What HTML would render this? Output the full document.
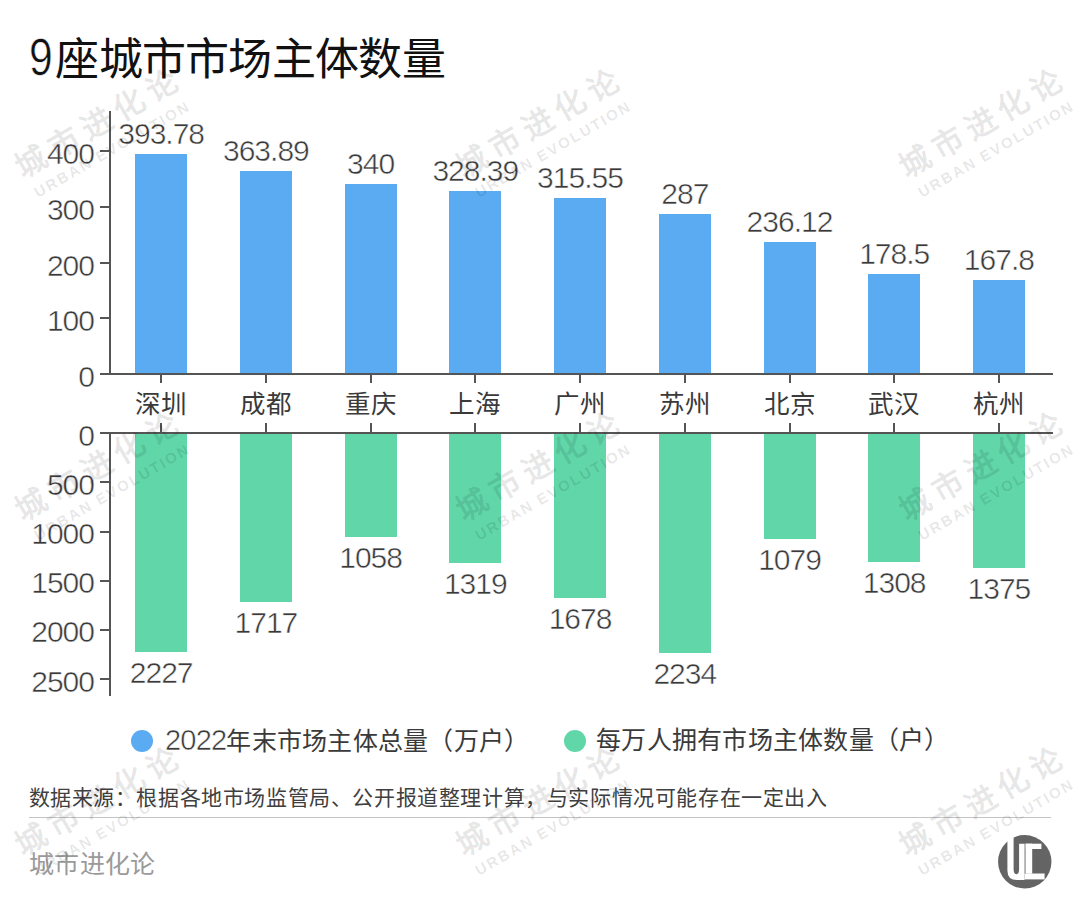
<!DOCTYPE html>
<html lang="zh-CN"><head><meta charset="utf-8"><style>
html,body{margin:0;padding:0;background:#fff;}
body{width:1080px;height:918px;position:relative;overflow:hidden;font-family:"Liberation Sans",sans-serif;}
div{box-sizing:border-box}
.ln{position:absolute;background:#555555;z-index:2}
.bar{position:absolute}
.num{position:absolute;font-size:30px;line-height:34px;color:#3a3a3a;white-space:nowrap;letter-spacing:-1px;-webkit-text-stroke:0.5px #fff}
.yl{text-align:right}
.vl{width:200px;text-align:center}
.cat{position:absolute;width:200px;text-align:center;font-size:25.5px;line-height:32px;color:#3a3a3a}
.title{position:absolute;font-size:44px;line-height:64px;color:#111;white-space:nowrap;font-weight:500;letter-spacing:-0.7px}
.n2{font-size:29px;letter-spacing:-0.8px;-webkit-text-stroke:0.5px #fff}
.leg{position:absolute;font-size:25px;letter-spacing:0.26px;line-height:34px;color:#3a3a3a;white-space:nowrap}
.dot{position:absolute;width:22px;height:22px;border-radius:50%}
.src{position:absolute;font-size:21px;letter-spacing:0.6px;line-height:30px;color:#404040;white-space:nowrap}
.foot{position:absolute;font-size:25px;letter-spacing:0.35px;line-height:32px;color:#9a9a9a;white-space:nowrap}
.wm{position:absolute;width:200px;height:80px;transform:rotate(-30deg);text-align:center;color:rgba(0,0,0,0.1);z-index:5}
.wm1{font-size:31px;line-height:40px;font-weight:900;letter-spacing:7px;text-indent:7px;white-space:nowrap}
.wm2{font-size:15px;line-height:18px;font-weight:700;letter-spacing:2.1px;text-indent:2.1px;white-space:nowrap}
</style></head><body>
<div class="wm" style="left:7px;top:102px"><div class="wm1">城市进化论</div><div class="wm2">URBAN EVOLUTION</div></div>
<div class="wm" style="left:448px;top:102px"><div class="wm1">城市进化论</div><div class="wm2">URBAN EVOLUTION</div></div>
<div class="wm" style="left:891px;top:102px"><div class="wm1">城市进化论</div><div class="wm2">URBAN EVOLUTION</div></div>
<div class="wm" style="left:7px;top:445px"><div class="wm1">城市进化论</div><div class="wm2">URBAN EVOLUTION</div></div>
<div class="wm" style="left:448px;top:445px"><div class="wm1">城市进化论</div><div class="wm2">URBAN EVOLUTION</div></div>
<div class="wm" style="left:891px;top:445px"><div class="wm1">城市进化论</div><div class="wm2">URBAN EVOLUTION</div></div>
<div class="wm" style="left:7px;top:780px"><div class="wm1">城市进化论</div><div class="wm2">URBAN EVOLUTION</div></div>
<div class="wm" style="left:448px;top:780px"><div class="wm1">城市进化论</div><div class="wm2">URBAN EVOLUTION</div></div>
<div class="wm" style="left:891px;top:780px"><div class="wm1">城市进化论</div><div class="wm2">URBAN EVOLUTION</div></div>
<div class="title" style="left:29px;top:22px;font-size:52px;line-height:70px;transform:scaleX(0.82);transform-origin:0 0;-webkit-text-stroke:0.6px #fff">9</div>
<div class="title" style="left:55.3px;top:27.5px">座城市市场主体数量</div>
<div class="ln" style="left:108.5px;top:111px;width:2px;height:264.0px"></div>
<div class="ln" style="left:100px;top:373.0px;width:953px;height:2px"></div>
<div class="ln" style="left:100px;top:373.0px;width:10px;height:2px"></div>
<div class="num yl" style="right:986px;top:360.0px">0</div>
<div class="ln" style="left:100px;top:317.4px;width:10px;height:2px"></div>
<div class="num yl" style="right:986px;top:304.4px">100</div>
<div class="ln" style="left:100px;top:261.7px;width:10px;height:2px"></div>
<div class="num yl" style="right:986px;top:248.7px">200</div>
<div class="ln" style="left:100px;top:206.1px;width:10px;height:2px"></div>
<div class="num yl" style="right:986px;top:193.1px">300</div>
<div class="ln" style="left:100px;top:150.4px;width:10px;height:2px"></div>
<div class="num yl" style="right:986px;top:137.4px">400</div>
<div class="ln" style="left:108.5px;top:433.2px;width:2px;height:262.8px"></div>
<div class="ln" style="left:100px;top:432.2px;width:953px;height:2px"></div>
<div class="ln" style="left:100px;top:432.2px;width:10px;height:2px"></div>
<div class="num yl" style="right:986px;top:418.7px">0</div>
<div class="ln" style="left:100px;top:481.3px;width:10px;height:2px"></div>
<div class="num yl" style="right:986px;top:467.8px">500</div>
<div class="ln" style="left:100px;top:530.5px;width:10px;height:2px"></div>
<div class="num yl" style="right:986px;top:517.0px">1000</div>
<div class="ln" style="left:100px;top:579.6px;width:10px;height:2px"></div>
<div class="num yl" style="right:986px;top:566.1px">1500</div>
<div class="ln" style="left:100px;top:628.8px;width:10px;height:2px"></div>
<div class="num yl" style="right:986px;top:615.3px">2000</div>
<div class="ln" style="left:100px;top:678.0px;width:10px;height:2px"></div>
<div class="num yl" style="right:986px;top:664.5px">2500</div>
<div class="bar" style="left:135.2px;top:154.2px;width:52px;height:219.8px;background:#5aabf2"></div>
<div class="bar" style="left:135.2px;top:433.2px;width:52px;height:218.9px;background:#60d6a9"></div>
<div class="ln" style="left:160.2px;top:374.0px;width:2px;height:8.5px"></div>
<div class="ln" style="left:160.2px;top:422.7px;width:2px;height:10.5px"></div>
<div class="num vl" style="left:61.2px;top:117.2px">393.78</div>
<div class="num vl" style="left:61.2px;top:656.1px">2227</div>
<div class="cat" style="left:61.2px;top:388px">深圳</div>
<div class="bar" style="left:239.9px;top:170.8px;width:52px;height:203.2px;background:#5aabf2"></div>
<div class="bar" style="left:239.9px;top:433.2px;width:52px;height:168.8px;background:#60d6a9"></div>
<div class="ln" style="left:264.9px;top:374.0px;width:2px;height:8.5px"></div>
<div class="ln" style="left:264.9px;top:422.7px;width:2px;height:10.5px"></div>
<div class="num vl" style="left:165.9px;top:133.8px">363.89</div>
<div class="num vl" style="left:165.9px;top:606.0px">1717</div>
<div class="cat" style="left:165.9px;top:388px">成都</div>
<div class="bar" style="left:344.6px;top:184.1px;width:52px;height:189.9px;background:#5aabf2"></div>
<div class="bar" style="left:344.6px;top:433.2px;width:52px;height:104.0px;background:#60d6a9"></div>
<div class="ln" style="left:369.6px;top:374.0px;width:2px;height:8.5px"></div>
<div class="ln" style="left:369.6px;top:422.7px;width:2px;height:10.5px"></div>
<div class="num vl" style="left:270.6px;top:147.1px">340</div>
<div class="num vl" style="left:270.6px;top:541.2px">1058</div>
<div class="cat" style="left:270.6px;top:388px">重庆</div>
<div class="bar" style="left:449.3px;top:190.6px;width:52px;height:183.4px;background:#5aabf2"></div>
<div class="bar" style="left:449.3px;top:433.2px;width:52px;height:129.7px;background:#60d6a9"></div>
<div class="ln" style="left:474.3px;top:374.0px;width:2px;height:8.5px"></div>
<div class="ln" style="left:474.3px;top:422.7px;width:2px;height:10.5px"></div>
<div class="num vl" style="left:375.3px;top:153.6px">328.39</div>
<div class="num vl" style="left:375.3px;top:566.9px">1319</div>
<div class="cat" style="left:375.3px;top:388px">上海</div>
<div class="bar" style="left:554.0px;top:197.7px;width:52px;height:176.3px;background:#5aabf2"></div>
<div class="bar" style="left:554.0px;top:433.2px;width:52px;height:164.9px;background:#60d6a9"></div>
<div class="ln" style="left:579.0px;top:374.0px;width:2px;height:8.5px"></div>
<div class="ln" style="left:579.0px;top:422.7px;width:2px;height:10.5px"></div>
<div class="num vl" style="left:480.0px;top:160.7px">315.55</div>
<div class="num vl" style="left:480.0px;top:602.1px">1678</div>
<div class="cat" style="left:480.0px;top:388px">广州</div>
<div class="bar" style="left:658.8px;top:213.6px;width:52px;height:160.4px;background:#5aabf2"></div>
<div class="bar" style="left:658.8px;top:433.2px;width:52px;height:219.6px;background:#60d6a9"></div>
<div class="ln" style="left:683.8px;top:374.0px;width:2px;height:8.5px"></div>
<div class="ln" style="left:683.8px;top:422.7px;width:2px;height:10.5px"></div>
<div class="num vl" style="left:584.8px;top:176.6px">287</div>
<div class="num vl" style="left:584.8px;top:656.8px">2234</div>
<div class="cat" style="left:584.8px;top:388px">苏州</div>
<div class="bar" style="left:763.5px;top:241.9px;width:52px;height:132.1px;background:#5aabf2"></div>
<div class="bar" style="left:763.5px;top:433.2px;width:52px;height:106.1px;background:#60d6a9"></div>
<div class="ln" style="left:788.5px;top:374.0px;width:2px;height:8.5px"></div>
<div class="ln" style="left:788.5px;top:422.7px;width:2px;height:10.5px"></div>
<div class="num vl" style="left:689.5px;top:204.9px">236.12</div>
<div class="num vl" style="left:689.5px;top:543.3px">1079</div>
<div class="cat" style="left:689.5px;top:388px">北京</div>
<div class="bar" style="left:868.2px;top:274.0px;width:52px;height:100.0px;background:#5aabf2"></div>
<div class="bar" style="left:868.2px;top:433.2px;width:52px;height:128.6px;background:#60d6a9"></div>
<div class="ln" style="left:893.2px;top:374.0px;width:2px;height:8.5px"></div>
<div class="ln" style="left:893.2px;top:422.7px;width:2px;height:10.5px"></div>
<div class="num vl" style="left:794.2px;top:237.0px">178.5</div>
<div class="num vl" style="left:794.2px;top:565.8px">1308</div>
<div class="cat" style="left:794.2px;top:388px">武汉</div>
<div class="bar" style="left:972.9px;top:279.9px;width:52px;height:94.1px;background:#5aabf2"></div>
<div class="bar" style="left:972.9px;top:433.2px;width:52px;height:135.2px;background:#60d6a9"></div>
<div class="ln" style="left:997.9px;top:374.0px;width:2px;height:8.5px"></div>
<div class="ln" style="left:997.9px;top:422.7px;width:2px;height:10.5px"></div>
<div class="num vl" style="left:898.9px;top:242.9px">167.8</div>
<div class="num vl" style="left:898.9px;top:572.4px">1375</div>
<div class="cat" style="left:898.9px;top:388px">杭州</div>
<div class="dot" style="left:131.2px;top:729.6px;background:#5aabf2"></div>
<div class="leg" style="left:165px;top:723px"><span class="n2">2022</span>年末市场主体总量（万户）</div>
<div class="dot" style="left:563.8px;top:729.6px;background:#60d6a9"></div>
<div class="leg" style="left:596px;top:723px">每万人拥有市场主体数量（户）</div>
<div class="src" style="left:28.5px;top:782.5px">数据来源：根据各地市场监管局、公开报道整理计算，与实际情况可能存在一定出入</div>
<div style="position:absolute;left:29px;top:817px;width:1022px;height:1px;background:#c4c4c4"></div>
<div class="foot" style="left:29px;top:848px">城市进化论</div>
<svg style="position:absolute;left:997.5px;top:835.3px" width="54" height="54" viewBox="0 0 54 54">
<circle cx="26.75" cy="26.8" r="26.7" fill="#646464"/>
<path d="M9.4 2.5 V35.5 Q9.4 45.1 19 45.1 H26.6 V8.7 H21.1 V34 Q21.1 39.2 18.35 39.2 Q15.6 39.2 15.6 34 V2.5 Z" fill="#fff"/>
<path d="M26.6 38.5 H46.6 V44.4 H26.6 Z" fill="#fff"/>
<rect x="27.6" y="8.7" width="6.6" height="30" fill="#fff"/>
<rect x="27.6" y="8.7" width="15.8" height="5.3" fill="#fff"/>
<rect x="26.6" y="8.7" width="1" height="29.8" fill="#bbb"/>
</svg>
</body></html>
